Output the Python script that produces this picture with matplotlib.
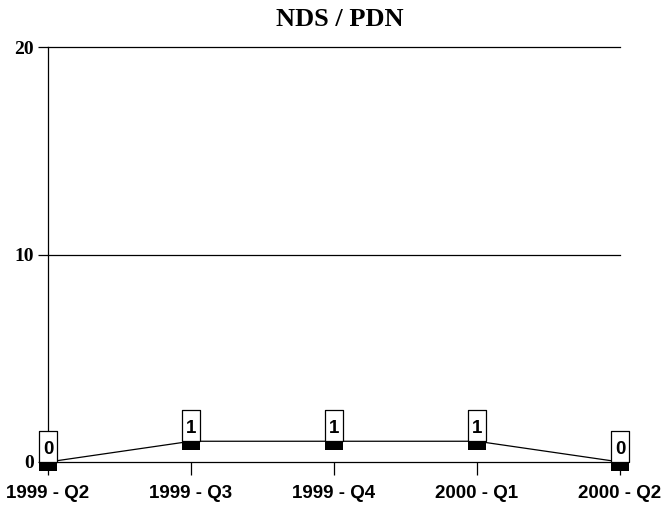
import matplotlib
matplotlib.use("Agg")
import matplotlib.pyplot as plt
from matplotlib.path import Path

categories = ["1999 - Q2", "1999 - Q3", "1999 - Q4", "2000 - Q1", "2000 - Q2"]
values = [0, 1, 1, 1, 0]
y_ticks = [0, 10, 20]
title = "NDS / PDN"

fig = plt.figure(figsize=(6.62, 5.08), dpi=100)
ax = fig.add_axes([48/662, 1-462/508, (620-48)/662, (462-47)/508])

x = list(range(len(categories)))
ax.set_xlim(0, len(categories) - 1)
ax.set_ylim(0, 20)

for yv in y_ticks:
    ax.axhline(yv, color="black", lw=0.9, zorder=1, clip_on=False)

# marker: rectangle hanging below the point
rect = Path([(-1, 0), (1, 0), (1, -1.05), (-1, -1.05), (-1, 0)],
            [Path.MOVETO, Path.LINETO, Path.LINETO, Path.LINETO, Path.CLOSEPOLY])
ax.plot(x, values, color="black", lw=0.9, marker=rect, markersize=13,
        markerfacecolor="black", markeredgewidth=0, clip_on=False, zorder=3)

# label box: white rectangle standing on the point
box = Path([(-9, 0), (9, 0), (9, 31), (-9, 31), (-9, 0)],
           [Path.MOVETO, Path.LINETO, Path.LINETO, Path.LINETO, Path.CLOSEPOLY])
ax.plot(x, values, linestyle="none", marker=box, markersize=62 * 0.72,
        markerfacecolor="white", markeredgecolor="black", markeredgewidth=0.9,
        clip_on=False, zorder=4)

for xi, v in zip(x, values):
    ax.annotate(str(v), xy=(xi, v), xytext=(0.3, 8 * 0.72), textcoords="offset points",
                ha="center", va="baseline", fontsize=13.5, fontweight="bold",
                family="Liberation Sans", annotation_clip=False, zorder=5)

ax.set_xticks(x)
ax.set_xticklabels(categories, fontsize=13.5, fontweight="bold", family="Liberation Sans")
ax.set_yticks(y_ticks)
ax.set_yticklabels([str(t) for t in y_ticks], fontsize=14, fontweight="bold",
                   family="Liberation Serif")
ax.tick_params(axis="x", length=9.5, width=0.9, pad=7, direction="out")
ax.tick_params(axis="y", length=7, width=0.9, pad=3, direction="out")

for s in ["top", "right", "bottom"]:
    ax.spines[s].set_visible(False)
ax.spines["left"].set_linewidth(0.9)

fig.text(340/662, 1-20/508, title, ha="center", va="center", fontsize=19,
         fontweight="bold", family="Liberation Serif")

fig.savefig("out.png", dpi=100)
